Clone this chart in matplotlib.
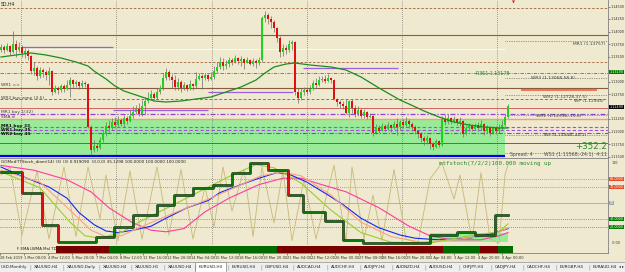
import numpy as np
import matplotlib as mpl
mpl.use('Agg')
import matplotlib.pyplot as plt
import matplotlib.patheffects as pe

# MT4-ish look
mpl.rcParams.update({
    'font.family': 'DejaVu Sans',
    'font.size': 3.5,
    'axes.linewidth': 0.6,
    'axes.edgecolor': '#7F7F7F',
})

W, H = 625, 272
BG = '#EEE9CF'
BULL, BEAR, WICK = '#1ED21E', '#E01010', '#6E6E6E'

# EURUSD H4 candles, in pips above 1.1000 (open = previous close)
first_open = 363
closes = [369, 363, 371, 359, 375, 363, 369, 357, 361, 351,
          321, 327, 311, 323, 319, 313, 321, 279, 287, 283,
          291, 285, 293, 303, 295, 299, 291, 297, 295, 209,
          163, 171, 167, 183, 195, 211, 207, 219, 213, 223,
          215, 227, 221, 231, 239, 245, 235, 251, 261, 267,
          275, 267, 279, 287, 307, 319, 309, 303, 289, 299,
          287, 293, 285, 295, 291, 305, 311, 307, 313, 305,
          309, 321, 329, 339, 331, 335, 343, 339, 347, 341,
          345, 337, 343, 335, 341, 337, 343, 427, 433, 425,
          419, 407, 387, 359, 367, 363, 375, 379, 279, 267,
          279, 283, 279, 285, 297, 293, 303, 305, 301, 307,
          303, 265, 259, 255, 251, 237, 261, 247, 235, 243,
          231, 239, 229, 231, 197, 207, 201, 211, 205, 213,
          207, 215, 209, 219, 213, 221, 215, 209, 201, 195,
          187, 181, 187, 175, 169, 181, 173, 225, 219, 227,
          219, 225, 217, 221, 195, 207, 211, 205, 213, 207,
          215, 201, 209, 197, 207, 201, 207, 213, 229, 251]
highs = [375, 373, 377, 373, 401, 383, 379, 373, 367, 365,
         353, 339, 331, 329, 327, 323, 329, 323, 293, 291,
         295, 295, 303, 309, 305, 303, 301, 303, 301, 297,
         213, 183, 177, 189, 203, 219, 223, 227, 229, 231,
         227, 233, 231, 243, 251, 253, 257, 263, 269, 279,
         283, 279, 287, 293, 317, 327, 323, 315, 313, 307,
         303, 299, 295, 303, 297, 319, 317, 315, 317, 315,
         319, 331, 339, 349, 347, 343, 349, 347, 353, 349,
         351, 347, 349, 345, 347, 345, 349, 431, 441, 437,
         431, 423, 409, 391, 375, 373, 383, 383, 381, 287,
         287, 289, 287, 293, 303, 307, 311, 311, 313, 315,
         309, 305, 267, 263, 261, 265, 263, 265, 253, 251,
         247, 245, 241, 237, 233, 215, 213, 217, 215, 219,
         215, 221, 227, 223, 225, 229, 225, 219, 213, 203,
         199, 191, 193, 189, 179, 185, 183, 231, 233, 235,
         229, 231, 227, 229, 223, 213, 217, 215, 217, 219,
         223, 217, 213, 211, 211, 211, 215, 223, 235, 255]
lows = [359, 357, 361, 353, 357, 349, 359, 349, 347, 343,
        315, 313, 303, 307, 309, 303, 293, 273, 277, 275,
        279, 279, 283, 269, 287, 289, 285, 287, 289, 207,
        153, 159, 161, 165, 179, 191, 199, 203, 207, 209,
        211, 209, 215, 219, 227, 235, 231, 231, 235, 257,
        265, 263, 265, 275, 283, 303, 303, 287, 283, 283,
        279, 283, 281, 283, 283, 287, 303, 285, 303, 301,
        303, 305, 317, 325, 323, 325, 329, 333, 337, 335,
        331, 325, 339, 333, 331, 327, 333, 339, 419, 415,
        407, 399, 379, 349, 351, 355, 359, 363, 273, 257,
        263, 273, 275, 275, 283, 287, 291, 299, 297, 299,
        297, 263, 251, 247, 245, 235, 229, 237, 229, 231,
        227, 227, 225, 227, 191, 195, 197, 203, 201, 203,
        199, 205, 193, 203, 207, 209, 207, 201, 195, 187,
        179, 173, 175, 165, 163, 167, 169, 171, 213, 215,
        215, 217, 213, 211, 189, 193, 201, 201, 203, 201,
        203, 193, 197, 191, 195, 195, 197, 203, 209, 227]

# moving average (green), vertices by bar
ma_bars = [0, 5, 10, 15, 20, 25, 29, 31, 35, 38, 41, 45, 48, 51, 55, 60, 65, 70, 75, 80,
           85, 88, 91, 95, 98, 103, 110, 115, 120, 126, 133, 136, 141, 146, 151, 156, 161, 166, 169]
ma_pips = [349, 353, 357, 353, 347, 339, 331, 321, 305, 291, 281, 273, 267, 261, 259, 261, 265, 269, 279, 289,
           303, 317, 329, 335, 337, 333, 329, 323, 309, 287, 263, 255, 241, 229, 219, 213, 209, 207, 207]

# pivot / zone levels on the main chart
level_prices = [1.1447, 1.1393, 1.1339, 1.1317, 1.1287, 1.1265, 1.1247, 1.1235,
                1.1225, 1.1209, 1.1203, 1.1197, 1.1177]
level_styles = [('#A0643C', (0, (3, 2)), 0.6), ('#8C5A3C', '-', 0.8), ('#A0643C', (0, (3, 2)), 0.6),
                ('#3C8C3C', (0, (4, 1.5, 1, 1.5)), 0.6), ('#8C5A3C', '-', 0.8), ('#A050E0', (0, (3, 2)), 0.7),
                ('#C85050', '-', 0.6), ('#9040E0', (0, (4, 1.5, 1, 1.5)), 0.9), ('#F0A070', '-', 1.0),
                ('#A050E0', (0, (3, 2)), 0.8), ('#A050E0', (0, (3, 2)), 0.8), ('#9040E0', (0, (4, 1.5, 1, 1.5)), 0.8),
                ('#2E8B2E', '-', 0.7)]
segment_prices = [1.1369, 1.1243, 1.1279, 1.1327]
segment_bars = [(7, 37.3), (37.3, 69), (69, 97.3), (100.7, 132.3)]
zone_low, zone_high = 1.1153, 1.1223
label_line_prices = [1.1381, 1.1307, 1.1273, 1.1233, 1.1193, 1.1157]
# 1.1325 and 1.1250 sit under the green / black price boxes
price_ticks = [1.1450, 1.1425, 1.1400, 1.1375, 1.1350, 1.1300,
               1.1275, 1.1225, 1.1200, 1.1175, 1.1150]

# stochastic panel
blue_bars = [0, 6, 16, 22, 26, 31, 35, 39, 44, 50, 55, 62, 69, 73, 80, 86, 92, 96, 102, 109,
             114, 120, 126, 133, 138, 146, 156, 163, 169]
blue_vals = [95, 85, 70, 56, 38, 23, 15, 13, 16, 21, 31, 44, 53, 63, 73, 81, 88, 86, 76, 60,
             48, 31, 19, 10, 6, 4, 6, 11, 18]
pink_bars = [0, 11, 22, 30, 36, 44, 50, 55, 61, 68, 76, 86, 94, 100, 106, 115, 126, 136, 143, 150,
             160, 166, 169]
pink_vals = [97, 91, 79, 64, 44, 25, 16, 14, 18, 39, 56, 73, 81, 81, 74, 64, 44, 21, 9, 4,
             4, 9, 13]
salmon_bars = [0, 13, 23, 30, 35, 40, 46, 56, 66, 76, 86, 93, 100, 110, 120, 130, 140, 153, 163, 169]
salmon_vals = [91, 76, 41, 16, 8, 9, 19, 35, 50, 66, 83, 89, 84, 60, 26, 8, 1, 5, 9, 19]
lime_bars = [0, 13, 23, 28, 33, 40, 46, 56, 66, 76, 85, 91, 100, 110, 120, 130, 143, 156, 166, 169]
lime_vals = [89, 69, 26, 9, 6, 13, 26, 45, 64, 83, 98, 94, 75, 41, 13, 1, 0, 9, 14, 24]
stoch_bars = [0, 3, 7, 12, 16, 21, 25, 29, 33, 35, 39, 43, 47, 52, 56, 60, 64, 68, 71, 74,
              77, 81, 84, 87, 91, 94, 97, 101, 105, 111, 115, 117, 121, 124, 127, 131, 135, 139, 143, 147,
              151, 153, 157, 160, 163, 166, 168, 169]
stoch_vals = [85, 95, 10, 90, 5, 95, 8, 95, 30, 85, 3, 90, 5, 95, 10, 92, 5, 70, 20, 95,
              40, 92, 8, 95, 25, 90, 3, 80, 5, 97, 2, 95, 5, 60, 3, 92, 5, 0, 80, 100,
              55, 85, 3, 88, 5, 0, 85, 98]
step_bars = [0, 7, 13.5, 19, 31.5, 37.5, 44, 52, 57.5, 64, 70.5, 77, 83, 89, 95.5, 100.5,
             108, 114, 120.5, 143, 152, 158, 164.5, 169]
step_vals = [89, 62, 22, 1, 7, 20, 35, 47, 60, 69, 72, 87, 100, 91, 60, 39,
             27, 4, 0, 10, 14, 10, 35, 35]
stoch_levels = [80, 70, 50, 30, 20]

# trend bar (red / green) under the oscillator
trend_edges = [13.5, 31.5, 89, 146, 158.5, 164.5, 169.7]
trend_up = [False, True, False, True, False, True]

grid_bars = [6.7, 38.3, 70.3, 102, 133.7, 165.3]
time_labels = ['28 Feb 2019', '1 Mar 08:00', '4 Mar 12:00', '5 Mar 20:00', '7 Mar 04:00',
               '8 Mar 12:00', '11 Mar 16:00', '12 Mar 20:00', '14 Mar 04:00', '15 Mar 12:00',
               '18 Mar 16:00', '19 Mar 20:00', '21 Mar 04:00', '22 Mar 12:00', '26 Mar 00:00',
               '27 Mar 08:00', '28 Mar 16:00', '29 Mar 20:00', '2 Apr 04:00', '3 Apr 12:00',
               '4 Apr 20:00', '8 Apr 00:00']
tab_labels = ['USD,Monthly', 'XAUUSD,H4', 'XAUUSD,Daily', 'XAUUSD,H4', 'XAUUSD,H1', 'XAUUSD,H4',
              'EURUSD,H4', 'EURUSD,H4', 'GBPUSD,H4', 'AUDCAD,H4', 'AUDCHF,H4', 'AUDJPY,H4',
              'AUDNZD,H4', 'AUDUSD,H4', 'CHFJPY,H4', 'CADJPY,H4', 'CADCHF,H4', 'EURGBP,H4', 'EURAUD,H4']
tab_x = [0, 33, 66, 102, 134, 167, 198, 231, 264, 296, 330, 363, 395, 428, 462, 494, 526, 559, 592]


def pip(v):
    return 1.1 + np.asarray(v) / 10000.0


def px_axes(fig, x0, y0, x1, y1, face=BG):
    ax = fig.add_axes([x0 / W, 1 - y1 / H, (x1 - x0) / W, (y1 - y0) / H])
    ax.set_facecolor(face)
    for s in ax.spines.values():
        s.set_visible(False)
    ax.set_xticks([])
    ax.set_yticks([])
    return ax


XLIM = (-1 / 3, 202.33)


def draw_main(fig):
    ax = px_axes(fig, 0, 0, 608, 158)
    ax.set_xlim(*XLIM)
    ax.set_ylim(1.1147, 1.1463)
    ax.spines['right'].set_visible(True)
    ax.spines['bottom'].set_visible(True)

    # green zone + levels
    ax.fill_between([-1, 168], zone_low, zone_high, color='#98EC98', lw=0, zorder=1)
    for p, (c, ls, lw) in zip(level_prices, level_styles):
        ax.axhline(p, color=c, ls=ls, lw=lw, zorder=2)
    ax.hlines(1.1365, -1, 168, color='#FAFAF4', lw=0.8, zorder=2)
    for p, (b0, b1) in zip(segment_prices, segment_bars):
        ax.hlines(p, b0, b1, color='#9A60E0', lw=0.9, zorder=2)
    ax.hlines(1.1152, -1, 168, color='#0000F0', lw=1.6, zorder=3)
    ax.hlines(1.1284, 173.3, 198.7, color='#F06040', lw=1.2, zorder=3)
    ax.hlines(label_line_prices, 168, 202.3, color='#505050', ls=(0, (1, 1.5)), lw=0.5, zorder=2)
    for b in grid_bars:
        ax.axvline(b, color='#505050', ls=(0, (1, 2)), lw=0.5, zorder=2)

    # MA
    ax.plot(ma_bars, pip(ma_pips), color='#1E8C1E', lw=0.9, zorder=6)

    # candles
    o = np.array([first_open] + closes[:-1])
    c = np.array(closes)
    hi = np.maximum.reduce([np.array(highs), o, c])
    lo = np.minimum.reduce([np.array(lows), o, c])
    x = np.arange(len(c))
    ax.vlines(x, pip(lo), pip(hi), color=WICK, lw=0.5, zorder=4)
    cols = [BULL if cc >= oo else BEAR for oo, cc in zip(o, c)]
    ax.bar(x, np.maximum(np.abs(c - o), 0.8) / 1e4, bottom=pip(np.minimum(o, c)),
           width=0.68, color=cols, lw=0, zorder=5)

    # price axis
    ax.yaxis.tick_right()
    ax.set_yticks(price_ticks, [f'{p:.5f}' for p in price_ticks])
    ax.tick_params(axis='y', length=1.5, width=0.4, pad=0.4, labelsize=2.45, colors='#303030')
    tr = ax.get_yaxis_transform()
    ax.text(1.003, 1.1319, '1.13190', transform=tr, fontsize=2.45, color='white', va='center',
            bbox=dict(boxstyle='square,pad=0.1', fc='#007A00', ec='none'))
    ax.text(1.003, 1.1249, '1.12490', transform=tr, fontsize=2.45, color='white', va='center',
            bbox=dict(boxstyle='square,pad=0.1', fc='black', ec='none'))

    # chart texts
    t = dict(fontsize=3.2, color='#404040', va='center', zorder=8)
    ax.text(0, 1.1455, 'SD,H4', fontsize=3.3, color='#202020', va='center')
    ax.text(0, 1.1293, 'WR1 ==', **t)
    ax.text(0, 1.1267, 'WR2 buy zone (3.5)', **t)
    ax.text(0, 1.1240, 'MR1 buy 1(32)', **t)
    ax.text(0, 1.1228, 'SMA d', **t)
    for k, s in enumerate(['MR1 buy 33', 'WR1 buy 35', 'WR2 buy 41']):
        ax.text(0, 1.1212 - k * 0.0008, s, fontsize=3.2, color='#101010', weight='bold', va='center', zorder=8)
    ax.text(201.5, 1.1375, 'MR1 (1.13757)', ha='right', **t)
    ax.text(164, 1.1317, 'R3S1 1.13178', fontsize=3.4, color='#2E7D2E', ha='center', va='center', zorder=8)
    ax.text(184, 1.1307, 'WR3 (1.13068,58.8)', ha='center', **t)
    ax.text(188, 1.1270, 'WR2 (1.12728,37.5)', ha='center', **t)
    ax.text(196, 1.1262, 'WP (1.12904)', ha='center', **t)
    ax.text(186, 1.1231, 'WR1 (1.12338,-15.8)', ha='center', **t)
    ax.text(188, 1.1193, 'WP (1.11948,-40.1)', ha='center', **t)
    ax.text(191.5, 1.1171, '+352.2', fontsize=6.2, color='#2E8B2E', va='center', zorder=8)
    ax.text(169.5, 1.1154, 'Spread: 4', fontsize=3.4, color='#505050', va='center', zorder=8)
    ax.text(181, 1.1154, 'WS1 (1.11568,-24.1)  4:11', fontsize=3.4, color='#505050', va='center', zorder=8)
    ax.text(170.7, 1.1459, '\u25bc', fontsize=2.8, color='#E02020', ha='center', va='center')
    return ax


def draw_stoch(fig):
    ax = px_axes(fig, 0, 159, 608, 245)
    ax.set_xlim(*XLIM)
    ax.set_ylim(-2.5, 105)
    ax.spines['right'].set_visible(True)
    for b in grid_bars:
        ax.axvline(b, color='#505050', ls=(0, (1, 2)), lw=0.5, zorder=1)
    lvl_cols = ['#E86060', '#E86060', '#A8A8A8', '#3AA03A', '#3AA03A']
    lvl_ls = [(0, (1, 1.5)), (0, (1, 1.5)), '-', (0, (1, 1.5)), (0, (1, 1.5))]
    for v, c, ls in zip(stoch_levels, lvl_cols, lvl_ls):
        ax.axhline(v, color=c, ls=ls, lw=0.6, zorder=1)

    ax.fill_between([143, 169], 1, 13, color='#98EC98', lw=0, zorder=2)
    ax.plot(stoch_bars, stoch_vals, color='#C8B878', lw=0.6, zorder=3)
    ax.plot(pink_bars, pink_vals, color='#FF3CA0', lw=0.8, zorder=4)
    ax.plot(blue_bars, blue_vals, color='#1428F0', lw=0.8, zorder=4)
    ax.plot(salmon_bars, salmon_vals, color='#FFA080', lw=0.8, zorder=4)
    ax.plot(lime_bars, lime_vals, color='#9ACD32', lw=0.8, zorder=4)

    ax.step(step_bars, step_vals, where='post', color='#0B7A0B', lw=1.0, zorder=5,
            path_effects=[pe.Stroke(linewidth=1.8, foreground='#0A2A0A'), pe.Normal()])
    for k in range(1, len(step_vals)):
        if step_vals[k] < step_vals[k - 1]:
            ax.vlines(step_bars[k], step_vals[k], step_vals[k - 1], color='#E01010', lw=0.8, zorder=6)

    ax.text(0, 102.5, 'GOMe#TTStoch_diam(14) (3) (3) 0.919090  (0.0.0) 35.1298 100.0000 100.0000 100.0000',
            fontsize=3.0, color='#202020', va='center')
    ax.text(146, 99, 'mtfstoch(7/2/2)100.000 moving up', family='DejaVu Sans Mono',
            fontsize=4.2, color='#2E8B2E', va='center')

    tr = ax.get_yaxis_transform()
    ax.text(1.006, 100, '100', transform=tr, fontsize=2.45, color='#303030', va='center')
    ax.text(1.006, 0, '-0.00', transform=tr, fontsize=2.45, color='#303030', va='center')
    box_cols = ['#E84A2A', '#E84A2A', '#A0A8B8', '#008000', '#008000']
    for v, bc in zip(stoch_levels, box_cols):
        lbl = '50' if v == 50 else f'{v:.4f}'
        ax.text(1.003, v, lbl, transform=tr, fontsize=2.4, color='white', va='center',
                bbox=dict(boxstyle='square,pad=0.1', fc=bc, ec='none'))
    return ax


def draw_trend(fig):
    ax = px_axes(fig, 0, 246, 608, 253)
    ax.set_xlim(*XLIM)
    ax.set_ylim(0, 1)
    ax.spines['bottom'].set_visible(True)
    ax.spines['right'].set_visible(True)
    for s, e, up in zip(trend_edges[:-1], trend_edges[1:], trend_up):
        ax.axvspan(s, e, color='#006A00' if up else '#7A0000', lw=0)
    ax.text(0, 0.5, 'F EMA LWMA Mal TD 5.2 : D4', fontsize=2.8, color='#202020', va='center')
    pos = [(-16.5 + 24.55 * k - 1) / 3 for k in range(len(time_labels))]
    ax.set_xticks(pos, time_labels)
    ax.tick_params(axis='x', length=1.5, width=0.4, pad=0.8, labelsize=2.6, colors='#303030')
    for lbl in ax.get_xticklabels():
        lbl.set_ha('left')
    return ax


def draw_tabs(fig):
    ax = px_axes(fig, 0, 262, 625, 272, face='#EFEFEF')
    ax.set_xlim(0, W)
    ax.set_ylim(0, 1)
    ax.axhline(0.98, color='#A0A0A0', lw=0.6)
    ax.add_patch(plt.Rectangle((195, 0.05), 31, 0.95, fc='white', ec='#808080', lw=0.5))
    for k, (x, s) in enumerate(zip(tab_x, tab_labels)):
        ax.text(x + 1, 0.5, s, fontsize=3.0, color='#202020', va='center', clip_on=True)
        if k:
            ax.text(x - 4, 0.5, '|', fontsize=3.5, color='#808080', va='center')
    ax.text(621, 0.5, '\u25c2 \u25b8', fontsize=2.6, color='#202020', va='center', ha='center',
            bbox=dict(boxstyle='square,pad=0.2', fc='#EFEFEF', ec='none'))
    return ax


if __name__ == '__main__':
    fig = plt.figure(figsize=(W / 100, H / 100), dpi=100, facecolor=BG)
    draw_main(fig)
    draw_stoch(fig)
    draw_trend(fig)
    draw_tabs(fig)
    fig.savefig('out.png', dpi=100, facecolor=BG)
